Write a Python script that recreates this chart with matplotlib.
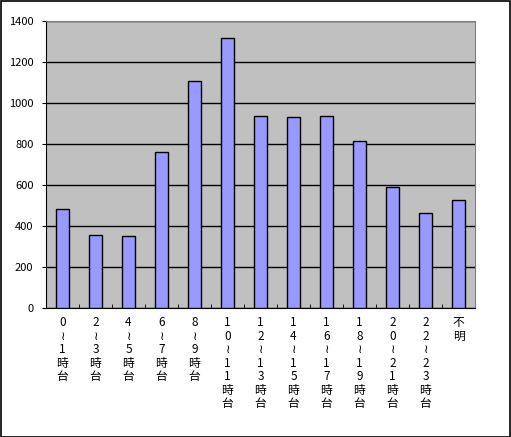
import numpy as np
import matplotlib.pyplot as plt
from matplotlib.patches import Rectangle

plt.rcParams['font.family'] = ['Noto Sans CJK JP', 'DejaVu Sans']

# hourly buckets (vertical labels, one char per line)
labels = ['0~1時台', '2~3時台', '4~5時台', '6~7時台', '8~9時台',
          '10~11時台', '12~13時台', '14~15時台', '16~17時台',
          '18~19時台', '20~21時台', '22~23時台', '不明']
values = [481, 355, 350, 759, 1107, 1315, 935, 930, 935, 813, 589, 462, 525]
yticks = [0, 200, 400, 600, 800, 1000, 1200, 1400]


def vlabel(s):
    # stack characters vertically, wave dash drawn upright
    return '\n'.join('≀' if c == '~' else c for c in s)


fig = plt.figure(figsize=(5.11, 4.37), dpi=100)
ax = fig.add_axes([0.090, 0.2952, 0.8395, 0.6568])

x = np.arange(len(values))
ax.bar(x, values, width=0.37, color='#9999FF', edgecolor='black',
       linewidth=1, zorder=3)

ax.set_facecolor('#C0C0C0')
ax.set_ylim(0, 1400)
ax.set_xlim(-0.5, len(values) - 0.5)
ax.set_yticks(yticks)
ax.yaxis.grid(True, color='black', linewidth=1)
ax.set_axisbelow(True)
ax.tick_params(axis='y', direction='out', length=3, labelsize=8, pad=6)

ax.set_xticks(x)
ax.set_xticklabels([vlabel(l) for l in labels], fontsize=8.5,
                   linespacing=1.05, va='top')
ax.tick_params(axis='x', length=0, pad=6)
ax.set_xticks(np.arange(len(values) + 1) - 0.5, minor=True)
ax.tick_params(axis='x', which='minor', direction='in', length=3)

for side in ['top', 'right']:
    ax.spines[side].set_color('#808080')
for side in ['left', 'bottom']:
    ax.spines[side].set_color('black')

fig.patches.append(Rectangle((0.001, 0.001), 0.997, 0.997,
                             transform=fig.transFigure, fill=False,
                             edgecolor='black', linewidth=1.2))

fig.savefig('out.png', dpi=100)
